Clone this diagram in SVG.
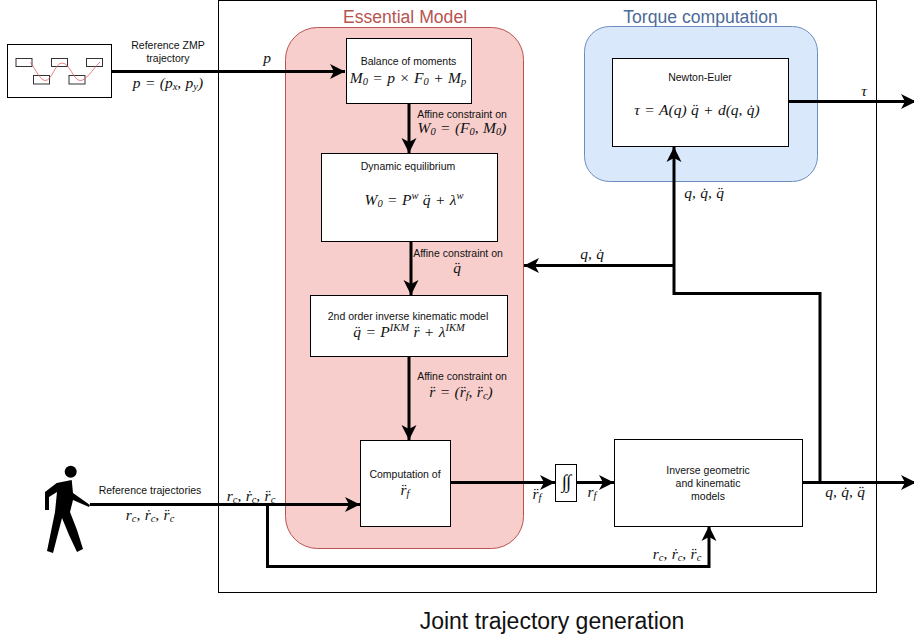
<svg xmlns="http://www.w3.org/2000/svg" width="914" height="642" viewBox="0 0 914 642">
<style>
.b{fill:#fff;stroke:#000;stroke-width:1}
.c{fill:none;stroke:#000;stroke-width:3}
.s{font-family:"Liberation Sans",Arial,sans-serif;font-size:10.500px;text-anchor:middle;fill:#111}
.m{font-family:"Liberation Serif","Times New Roman",serif;font-style:italic;font-size:15.500px;word-spacing:.5px;text-anchor:middle;fill:#111}
.t{font-family:"Liberation Sans",Arial,sans-serif;font-size:17.600px;text-anchor:middle}
.u{font-size:10.500px}
</style>
<defs>
<marker id="a" markerUnits="userSpaceOnUse" markerWidth="17" markerHeight="16" refX="15" refY="8" orient="auto"><path d="M0 0.500L15 8L0 15.500L4 8Z" fill="#000"/></marker>
</defs>
<rect x="0" y="0" width="914" height="642" fill="#fff"/>
<rect id="frame" x="218.500" y="0.500" width="658" height="592" fill="none" stroke="#000" stroke-width="1"/>
<g id="essential"><rect x="285.500" y="27.500" width="238" height="521" rx="32" fill="#f8cecc" stroke="#b85450"/><text class="t" x="405" y="22.500" fill="#b85450">Essential Model</text></g>
<g id="torque"><rect x="584.500" y="26.500" width="233" height="155" rx="25" fill="#dae8fc" stroke="#6c8ebf"/><text class="t" x="700.500" y="22.500" fill="#4d6a98">Torque computation</text></g>
<g id="connectors">
<path class="c" d="M111 71.500H345" marker-end="url(#a)"/>
<path class="c" d="M409 104V153" marker-end="url(#a)"/>
<path class="c" d="M411 241V295" marker-end="url(#a)"/>
<path class="c" d="M409 356V440" marker-end="url(#a)"/>
<path class="c" d="M90 504.500H360" marker-end="url(#a)"/>
<path class="c" d="M450 482.500H555" marker-end="url(#a)"/>
<path class="c" d="M576 482.500H614" marker-end="url(#a)"/>
<path class="c" d="M267.500 504V566.500H709V526" marker-end="url(#a)"/>
<path class="c" d="M802 482.500H916" marker-end="url(#a)"/>
<path class="c" d="M820 482V293.500H674V147" marker-end="url(#a)"/>
<path class="c" d="M674 265.500H524" marker-end="url(#a)"/>
<path class="c" d="M788 101.500H916" marker-end="url(#a)"/>
</g>
<g id="zmp"><rect x="7.500" y="44.500" width="104" height="53" fill="#fff" stroke="#000"/>
<g fill="none" stroke="#333"><rect x="16" y="58.500" width="16" height="8"/><rect x="33.500" y="75.500" width="16" height="8.500"/><rect x="51.500" y="58.500" width="16" height="8"/><rect x="69" y="75.500" width="16" height="8.500"/><rect x="86.500" y="58.500" width="16" height="8"/></g>
<path d="M30.500 62.500C36 70 40 80 45 80.500C52 81 55 63 62 63C70 63 73 80 80 80.500C86 81 92 70 100 62" fill="none" stroke="#e06060" stroke-width=".8"/>
<text class="s" x="168" y="49">Reference ZMP</text><text class="s" x="168" y="62">trajectory</text>
<text class="m" x="168" y="88">p = (p<tspan class="u" dy="2">x</tspan><tspan dy="-2">, p</tspan><tspan class="u" dy="2">y</tspan><tspan dy="-2">)</tspan></text>
<text class="m" x="267" y="63">p</text></g>
<g id="walker"><circle cx="70.700" cy="471.700" r="6"/>
<path d="M45 492L56.700 483L71.700 480L73 493L90 505L89 507L73 500L70 512L77 530L83 549L77 552L69 535L62 518L53 553L47 551L55 512L57 492L49 497L49 510L45 510Z"/>
<text class="s" x="150" y="494">Reference trajectories</text>
<text class="m" x="150" y="520">r<tspan class="u" dy="2">c</tspan><tspan dy="-2">, ṙ</tspan><tspan class="u" dy="2">c</tspan><tspan dy="-2">, r̈</tspan><tspan class="u" dy="2">c</tspan></text>
<text class="m" x="251" y="501">r<tspan class="u" dy="2">c</tspan><tspan dy="-2">, ṙ</tspan><tspan class="u" dy="2">c</tspan><tspan dy="-2">, r̈</tspan><tspan class="u" dy="2">c</tspan></text></g>
<g id="balance"><rect class="b" x="346.500" y="38.500" width="125" height="65"/><text class="s" x="408.500" y="65">Balance of moments</text><text class="m" x="408" y="83">M<tspan class="u" dy="2">0</tspan><tspan dy="-2"> = p × F</tspan><tspan class="u" dy="2">0</tspan><tspan dy="-2"> + M</tspan><tspan class="u" dy="2">p</tspan></text></g>
<text class="s" x="462" y="118">Affine constraint on</text>
<text class="m" x="462" y="133">W<tspan class="u" dy="2">0</tspan><tspan dy="-2"> = (F</tspan><tspan class="u" dy="2">0</tspan><tspan dy="-2">, M</tspan><tspan class="u" dy="2">0</tspan><tspan dy="-2">)</tspan></text>
<g id="dynamic"><rect class="b" x="321.500" y="153.500" width="176" height="88"/><text class="s" x="408" y="170">Dynamic equilibrium</text><text class="m" x="414" y="205">W<tspan class="u" dy="2">0</tspan><tspan dy="-2"> = P</tspan><tspan class="u" dy="-6">w</tspan><tspan dy="6"> q̈ + λ</tspan><tspan class="u" dy="-6">w</tspan></text></g>
<text class="s" x="458" y="257">Affine constraint on</text>
<text class="m" x="457" y="273">q̈</text>
<g id="ikm"><rect class="b" x="310.500" y="295.500" width="197" height="61"/><text class="s" x="408" y="320">2nd order inverse kinematic model</text><text class="m" x="409" y="337">q̈ = P<tspan class="u" dy="-6">IKM</tspan><tspan dy="6"> r̈ + λ</tspan><tspan class="u" dy="-6">IKM</tspan></text></g>
<text class="s" x="462" y="380">Affine constraint on</text>
<text class="m" x="461" y="397">r̈ = (r̈<tspan class="u" dy="2">f</tspan><tspan dy="-2">, r̈</tspan><tspan class="u" dy="2">c</tspan><tspan dy="-2">)</tspan></text>
<g id="computation"><rect class="b" x="360.500" y="440.500" width="90" height="86"/><text class="s" x="405" y="478">Computation of</text><text class="m" x="405" y="495">r̈<tspan class="u" dy="2">f</tspan></text></g>
<g id="integrator"><rect x="555.500" y="464.500" width="21" height="37" fill="#fff" stroke="#000"/><text class="m" x="566" y="488" style="font-size:19px;letter-spacing:-1px">∫∫</text></g>
<text class="m" x="537" y="499">r̈<tspan class="u" dy="2">f</tspan></text>
<text class="m" x="592" y="497">r<tspan class="u" dy="2">f</tspan></text>
<g id="inverse"><rect class="b" x="614.500" y="439.500" width="188" height="87"/><text class="s" x="708" y="474">Inverse geometric</text><text class="s" x="708" y="487">and kinematic</text><text class="s" x="708" y="500">models</text></g>
<text class="m" x="845" y="497">q, q̇, q̈</text>
<text class="m" x="677" y="559">r<tspan class="u" dy="2">c</tspan><tspan dy="-2">, ṙ</tspan><tspan class="u" dy="2">c</tspan><tspan dy="-2">, r̈</tspan><tspan class="u" dy="2">c</tspan></text>
<g id="newton"><rect class="b" x="612.500" y="58.500" width="176" height="88"/><text class="s" x="700" y="81">Newton-Euler</text><text class="m" x="697" y="115">τ = A(q) q̈ + d(q, q̇)</text></g>
<text class="m" x="864" y="96">τ</text>
<text class="m" x="704" y="198">q, q̇, q̈</text>
<text class="m" x="592" y="259">q, q̇</text>
<text id="title" x="552" y="629" font-family="Liberation Sans,Arial,sans-serif" font-size="23px" text-anchor="middle" fill="#111">Joint trajectory generation</text>
</svg>
